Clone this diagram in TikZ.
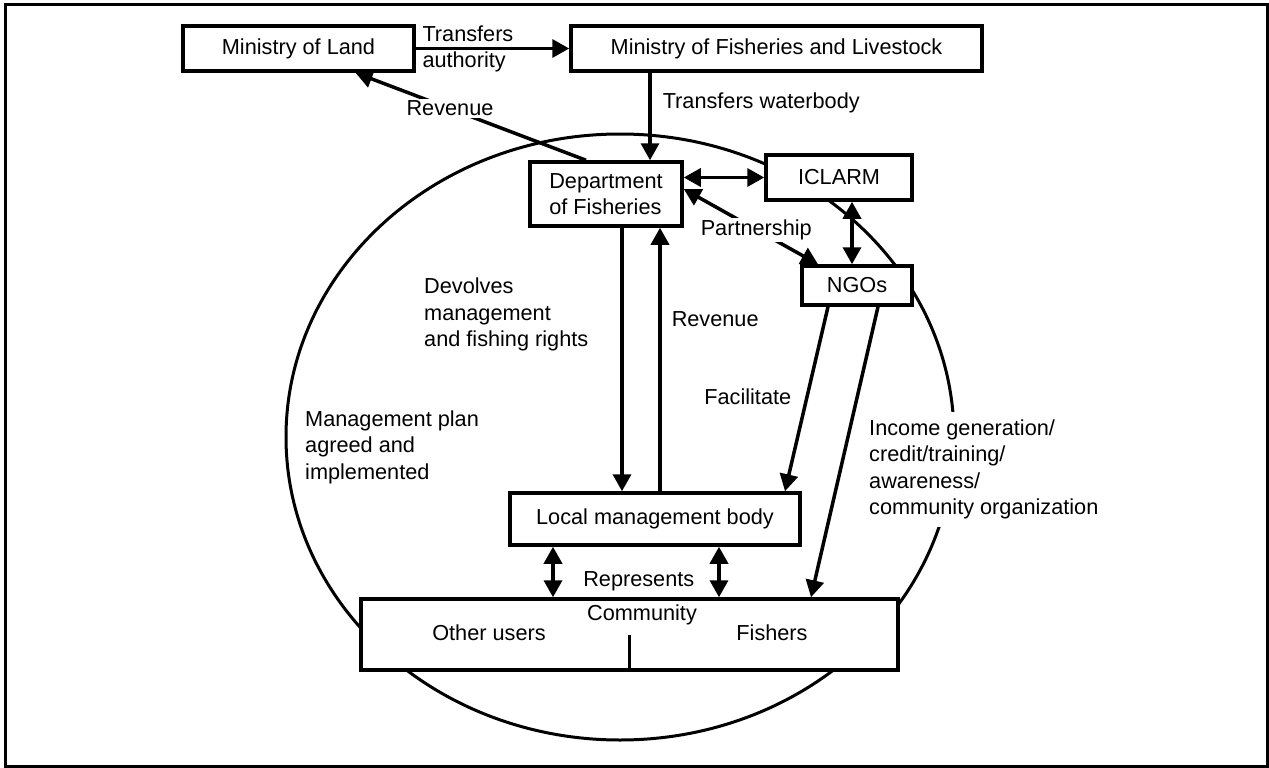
\documentclass[tikz,border=0pt]{standalone}
\usepackage{fontspec}
\setmainfont{Liberation Sans}
\usetikzlibrary{arrows.meta,positioning,calc}

\begin{document}
\begin{tikzpicture}[x=1pt,y=-1pt,
	every node/.style = {font=\fontsize{21.7}{26.5}\selectfont, inner sep=2pt},
	org box/.style = {draw, line width=3.5pt, fill=white, align=left},
	flow/.style = {line width=3.5pt, >={Triangle[length=17pt,width=18pt]}}
	]
\useasboundingbox (0,0) rectangle (1269,768);
\draw[line width=3pt] (5,5) rectangle (1267.5,766.5);

% the community circle
\draw[line width=3pt] (620,437) ellipse [x radius=334pt, y radius=303pt];

\node[org box, minimum width=231pt, minimum height=45pt] (land) at (298.5,48.5) {Ministry of Land};
\node[org box, minimum width=411pt, minimum height=45pt] (mofl) at (776.5,48.5) {Ministry of Fisheries and Livestock};
\node[org box, minimum width=152pt, minimum height=64pt] (dept) at (606,194) {Department\\of Fisheries};
\node[org box, minimum width=146pt, minimum height=45pt] (iclarm) at (839,177.5) {ICLARM};
\node[org box, minimum width=110pt, minimum height=39pt] (ngos) at (857,285.5) {NGOs};
\node[org box, minimum width=290pt, minimum height=52pt] (lmb) at (655,519) {Local management body};
\node[org box, minimum width=537pt, minimum height=71pt] (comm) at (629.5,634.5) {};

\node (others) at (489,633) {Other users};
\node (community) at (642,615) {Community};
\node (fishers) at (772,633) {Fishers};
\draw[line width=3pt] (comm.south) -- ++(0,-37);

\node[align=left, anchor=west] (plan) at (303,447) {Management plan\\agreed and\\implemented};

\draw[flow,->] (land) -- node[pos=0, anchor=south west, xshift=3pt, yshift=3pt] {Transfers}
	node[pos=0, anchor=north west, xshift=3pt] {authority} (mofl);
\draw[flow,->] ([xshift=-20pt]dept.north) -- node[pos=0.59, fill=white] {Revenue} ([xshift=57pt]land.south);
\draw[flow,->] ([xshift=-126.5pt]mofl.south) -- node[pos=0.35, right=9pt] {Transfers waterbody} ([xshift=44pt]dept.north);

\draw[flow,<->] (dept.east |- iclarm.west) -- (iclarm.west);
\draw[flow,<->] ([yshift=5pt]dept.east) -- node[pos=0.54, fill=white] {Partnership} ([xshift=-39pt]ngos.north);
\draw[flow,<->] ([xshift=-5pt]ngos.north) -- ([xshift=-5pt]ngos.north |- iclarm.south);

\draw[flow,->] ([xshift=16pt]dept.south) -- node[pos=0.33, left=30pt, align=left] {Devolves\\management\\and fishing rights} ([xshift=16pt]dept.south |- lmb.north);
\draw[flow,->] ([xshift=54pt]dept.south |- lmb.north) -- node[pos=0.655, right=8pt] {Revenue} ([xshift=54pt]dept.south);

\draw[flow,->] ([xshift=-29pt]ngos.south) -- node[pos=0.49, left=12pt] {Facilitate} ([xshift=130pt]lmb.north);
\draw[flow,->] ([xshift=21pt]ngos.south) -- node[pos=0.56, right=19pt, align=left, fill=white, inner sep=8pt] {Income generation/\\credit/training/\\awareness/\\community organization} ([xshift=181.5pt]comm.north);

\draw[flow,<->] ([xshift=-102pt]lmb.south) -- ([xshift=-102pt]lmb.south |- comm.north);
\draw[flow,<->] ([xshift=64pt]lmb.south) -- node[pos=0.69, left=21pt] {Represents} ([xshift=64pt]lmb.south |- comm.north);
\end{tikzpicture}
\end{document}
